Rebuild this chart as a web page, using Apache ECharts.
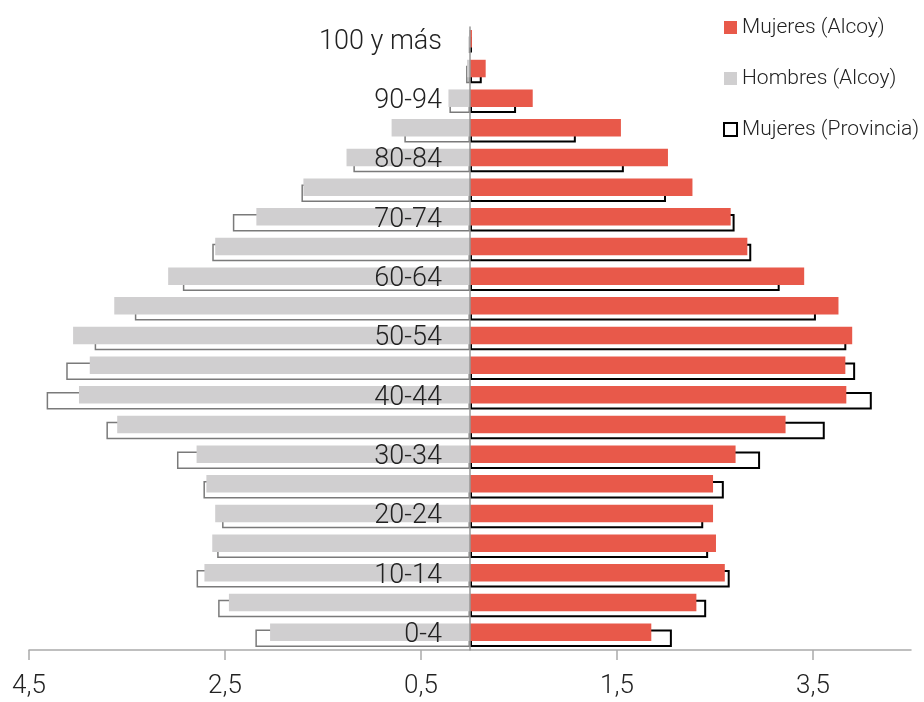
<!DOCTYPE html>
<html>
<head>
<meta charset="utf-8">
<style>html,body{margin:0;padding:0;background:#fff;}#c{width:924px;height:702px;}</style>
<script src="https://cdn.jsdelivr.net/npm/echarts@6/dist/echarts.min.js"></script>
</head>
<body>
<div id="c"></div>
<script>
const categories = ['0-4','5-9','10-14','15-19','20-24','25-29','30-34','35-39','40-44','45-49','50-54','55-59','60-64','65-69','70-74','75-79','80-84','85-89','90-94','95-99','100 y más'];
const hombresAlcoy = [2.04, 2.46, 2.71, 2.63, 2.60, 2.69, 2.79, 3.60, 3.99, 3.88, 4.05, 3.63, 3.08, 2.60, 2.18, 1.70, 1.26, 0.80, 0.22, 0.03, 0.01];
const hombresProvincia = [2.19, 2.57, 2.79, 2.58, 2.53, 2.72, 2.99, 3.71, 4.32, 4.12, 3.83, 3.42, 2.93, 2.63, 2.42, 1.72, 1.19, 0.67, 0.21, 0.04, 0.01];
const mujeresAlcoy = [1.85, 2.31, 2.60, 2.51, 2.48, 2.48, 2.71, 3.22, 3.84, 3.83, 3.90, 3.76, 3.41, 2.83, 2.66, 2.27, 2.02, 1.54, 0.64, 0.16, 0.02];
const mujeresProvincia = [2.06, 2.41, 2.65, 2.43, 2.38, 2.59, 2.96, 3.62, 4.10, 3.93, 3.84, 3.53, 3.16, 2.87, 2.70, 2.00, 1.57, 1.08, 0.47, 0.12, 0.02];
const tickValues = [-4.5, -2.5, -0.5, 1.5, 3.5];

const FONT = 'Roboto';
const chart = echarts.init(document.getElementById('c'), null, {renderer: 'canvas'});
const neg = a => a.map(v => -v);
const GRID_LEFT = 29, GRID_RIGHT = 13, X_MIN = -4.5, X_MAX = 4.5;
const plotW = 924 - GRID_LEFT - GRID_RIGHT;
const zeroOffset = plotW * (0 - X_MIN) / (X_MAX - X_MIN);
chart.setOption({
  animation: false,
  backgroundColor: '#fff',
  grid: {left: GRID_LEFT, right: GRID_RIGHT, top: 27, bottom: 52, containLabel: false, outerBoundsMode: 'none'},
  legend: {
    orient: 'vertical', left: 718, top: 12, itemWidth: 13, itemHeight: 13, itemGap: 30,
    textStyle: {fontFamily: FONT, fontSize: 21, fontWeight: 300, color: '#222'},
    data: [
      {name: 'Mujeres (Alcoy)', icon: 'rect'},
      {name: 'Hombres (Alcoy)', icon: 'rect'},
      {name: 'Mujeres (Provincia)', icon: 'rect', itemStyle: {color: '#fff', borderColor: '#000', borderWidth: 2}}
    ]
  },
  xAxis: {
    type: 'value', min: X_MIN, max: X_MAX, interval: 2,
    axisLine: {show: true, lineStyle: {color: '#aaa', width: 1.5}},
    axisTick: {show: true, length: 10, lineStyle: {color: '#aaa', width: 1.5}, customValues: tickValues},
    axisLabel: {customValues: tickValues, margin: 23, fontFamily: FONT, fontSize: 26, fontWeight: 300, color: '#222',
      formatter: v => Math.abs(v).toFixed(1).replace('.', ',')},
    splitLine: {show: false}
  },
  yAxis: {
    type: 'category', data: categories, z: 10, position: 'left', offset: -zeroOffset,
    axisLine: {onZero: false, lineStyle: {color: '#999', width: 1.5}},
    axisTick: {show: false},
    axisLabel: {interval: 1, margin: 28, lineHeight: 27, padding: [6, 0, 0, 0], verticalAlign: 'middle', fontFamily: FONT, fontSize: 27, fontWeight: 300, color: '#222'}
  },
  series: [
    {name: 'Hombres (Alcoy)', type: 'bar', stack: 'alc', z: 4, data: neg(hombresAlcoy), barWidth: 17.5, barGap: '-66%',
      itemStyle: {color: '#d0cfd0'}},
    {name: 'Mujeres (Alcoy)', type: 'bar', stack: 'alc', z: 4, data: mujeresAlcoy, barWidth: 17.5,
      itemStyle: {color: '#e8594a'}},
    {name: 'Hombres (Provincia)', type: 'bar', stack: 'prov', z: 3, data: neg(hombresProvincia), barWidth: 17.5, barGap: '-66%',
      itemStyle: {color: 'rgba(255,255,255,0)', borderColor: '#7a7a7a', borderWidth: 1.5}},
    {name: 'Mujeres (Provincia)', type: 'bar', stack: 'prov', z: 3, data: mujeresProvincia, barWidth: 17.5,
      itemStyle: {color: 'rgba(255,255,255,0)', borderColor: '#000', borderWidth: 2}}
  ]
});
</script>
</body>
</html>
